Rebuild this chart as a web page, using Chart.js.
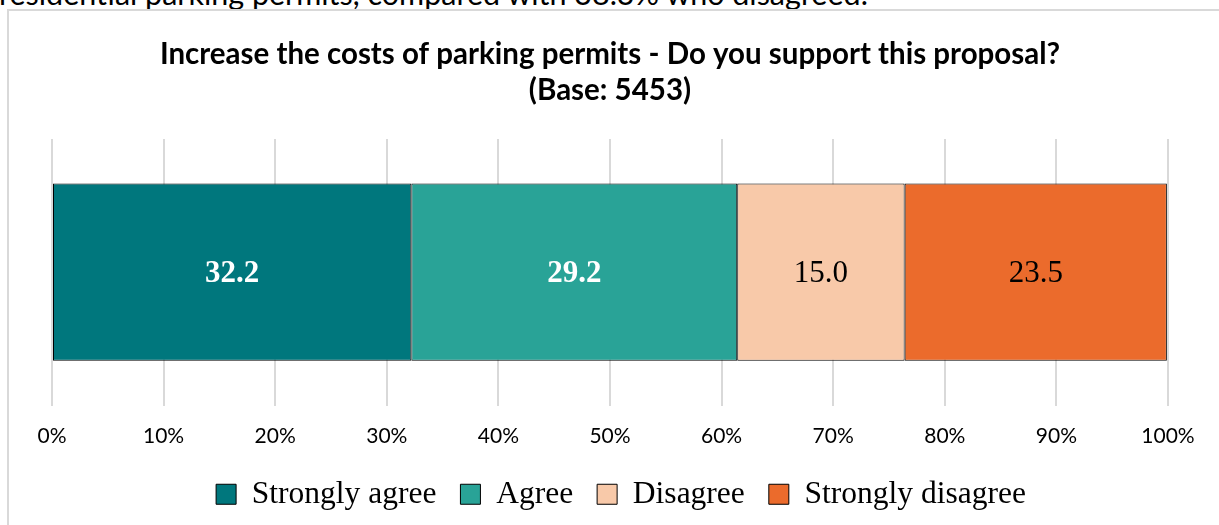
<!DOCTYPE html>
<html>
<head>
<meta charset="utf-8">
<script src="https://cdn.jsdelivr.net/npm/chart.js@4"></script>
<style>
  html, body { margin: 0; padding: 0; background: #fff; overflow: hidden; }
  body { width: 1219px; height: 525px; position: relative; }
  #lead { position: absolute; left: -1px; top: -24px; font-family: Lato, "Open Sans", sans-serif; font-size: 30.5px; color: #000; white-space: nowrap; line-height: 34px; }
  #frame { position: absolute; left: 7px; top: 9px; width: 1230px; height: 540px; border: 2px solid #d9d9d9; box-sizing: border-box; background: #fff; }
  #wrap { position: absolute; left: 0; top: 0; width: 1219px; height: 525px; }
</style>
</head>
<body>
<div id="lead">residential parking permits, compared with 38.3% who disagreed.</div>
<div id="frame"></div>
<div id="wrap"><canvas id="c" width="1219" height="525"></canvas></div>
<script>
const titleLines = ['Increase the costs of parking permits - Do you support this proposal?', '(Base: 5453)'];
const categories = [''];
const seriesNames = ['Strongly agree', 'Agree', 'Disagree', 'Strongly disagree'];
const stronglyAgree = [32.2];
const agree = [29.2];
const disagree = [15.0];
const stronglyDisagree = [23.5];
const tickLabels = ['0%', '10%', '20%', '30%', '40%', '50%', '60%', '70%', '80%', '90%', '100%'];

const colors = ['#00777d', '#29a397', '#f8c9a9', '#eb6b2c'];
const labelColors = ['#ffffff', '#ffffff', '#000000', '#000000'];
const labelWeights = ['bold', 'bold', 'normal', 'normal'];

const seriesValues = [stronglyAgree, agree, disagree, stronglyDisagree];

const dataLabelPlugin = {
  id: 'dataLabels',
  afterDatasetsDraw(chart) {
    const ctx = chart.ctx;
    chart.data.datasets.forEach((ds, i) => {
      const meta = chart.getDatasetMeta(i);
      meta.data.forEach((el, j) => {
        const p = el.getProps(['x', 'y', 'base'], true);
        const cx = (p.x + p.base) / 2;
        ctx.save();
        ctx.font = labelWeights[i] + ' 31px "Liberation Serif", "Times New Roman", serif';
        ctx.fillStyle = labelColors[i];
        ctx.textAlign = 'center';
        ctx.textBaseline = 'middle';
        ctx.fillText(ds.data[j].toFixed(1), cx, p.y + 2);
        ctx.restore();
      });
    });
  }
};

const legendShift = {
  id: 'legendShift',
  afterLayout(chart) {
    if (chart.legend) {
      chart.legend.left += 11;
      chart.legend.right += 11;
    }
  }
};

new Chart(document.getElementById('c'), {
  type: 'bar',
  data: {
    labels: categories,
    datasets: seriesNames.map((name, i) => ({
      label: name,
      data: seriesValues[i],
      backgroundColor: colors[i],
      borderColor: '#000000',
      borderWidth: 1,
      borderSkipped: false,
      barPercentage: 0.665,
      categoryPercentage: 1
    }))
  },
  options: {
    indexAxis: 'y',
    responsive: false,
    animation: false,
    devicePixelRatio: 1,
    layout: { padding: { left: 52, right: 51, top: 20, bottom: 5 } },
    scales: {
      x: {
        stacked: true,
        min: 0,
        max: 100,
        afterFit: (scale) => { scale.height = 49; },
        ticks: {
          stepSize: 10,
          padding: 18,
          color: '#000',
          font: { family: 'Lato', size: 21 },
          callback: (v, idx) => tickLabels[idx]
        },
        grid: { color: '#d9d9d9', lineWidth: 2, drawTicks: false },
        border: { display: false }
      },
      y: {
        stacked: true,
        display: false
      }
    },
    plugins: {
      title: {
        display: true,
        text: titleLines,
        color: '#000',
        font: { family: 'Lato', size: 29.5, weight: 'bold', lineHeight: 1.22 },
        padding: { top: 16, bottom: 31 }
      },
      legend: {
        position: 'bottom',
        labels: {
          color: '#000',
          font: { family: '"Liberation Serif", "Times New Roman", serif', size: 31.5 },
          boxWidth: 20,
          boxHeight: 20,
          padding: 24
        }
      },
      tooltip: { enabled: false }
    }
  },
  plugins: [dataLabelPlugin, legendShift]
});
</script>
</body>
</html>
